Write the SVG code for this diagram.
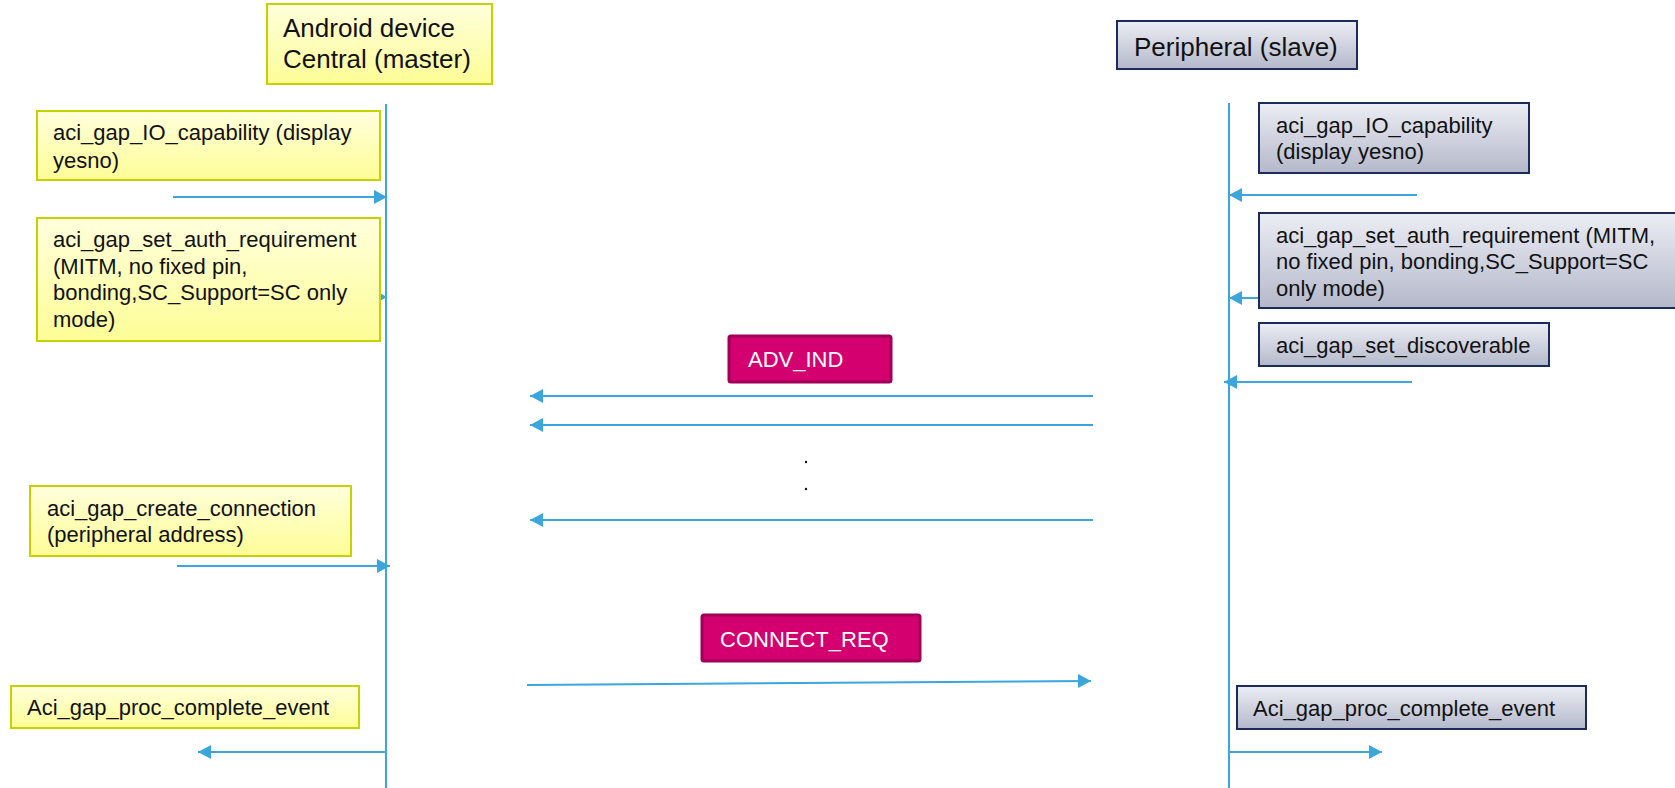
<svg xmlns="http://www.w3.org/2000/svg" width="1675" height="788" viewBox="0 0 1675 788">
<defs>
<linearGradient id="gy" x1="0" y1="0" x2="0" y2="1"><stop offset="0" stop-color="#ffffdc"/><stop offset="1" stop-color="#fdfd96"/></linearGradient>
<linearGradient id="gg" x1="0" y1="0" x2="0" y2="1"><stop offset="0" stop-color="#eceef4"/><stop offset="1" stop-color="#b4b8ca"/></linearGradient>
<marker id="ah" markerUnits="userSpaceOnUse" markerWidth="14" markerHeight="14" refX="13" refY="7" orient="auto"><path d="M0,0 L13,7 L0,14 z" fill="#3aa6dc"/></marker>
<style>
.y{fill:url(#gy);stroke:#c4d200;stroke-width:2}
.g{fill:url(#gg);stroke:#1b2b5b;stroke-width:2}
.m{fill:#d5006f;stroke:#a00058;stroke-width:3}
.t{font-family:"Liberation Sans",Arial,sans-serif;font-size:22px;fill:#111}
.h{font-family:"Liberation Sans",Arial,sans-serif;fill:#111}
.w{font-family:"Liberation Sans",Arial,sans-serif;fill:#fff}
.ll{stroke:#3aa6dc;stroke-width:2;fill:none}
.a{stroke:#3aa6dc;stroke-width:2;fill:none;marker-end:url(#ah)}
</style>
</defs>
<rect width="1675" height="788" fill="#fff"/>
<g id="connectors">
<line class="ll" x1="386" y1="104" x2="386" y2="788"/>
<line class="ll" x1="1229" y1="103" x2="1229" y2="788"/>
<line class="a" x1="173" y1="197" x2="387" y2="197"/>
<line class="a" x1="300" y1="297" x2="387" y2="297"/>
<line class="a" x1="177" y1="566" x2="390" y2="566"/>
<line class="a" x1="386" y1="752" x2="198" y2="752"/>
<line class="a" x1="1417" y1="195" x2="1229" y2="195"/>
<line class="a" x1="1270" y1="298" x2="1229" y2="298"/>
<line class="a" x1="1412" y1="382" x2="1224" y2="382"/>
<line class="a" x1="1229" y1="752" x2="1382" y2="752"/>
<line class="a" x1="1093" y1="396" x2="530" y2="396"/>
<line class="a" x1="1093" y1="425" x2="530" y2="425"/>
<line class="a" x1="1093" y1="520" x2="530" y2="520"/>
<line class="a" x1="527" y1="685" x2="1091" y2="681"/>
</g>
<g id="dots"><circle cx="806" cy="462" r="1.2" fill="#111"/><circle cx="806" cy="489" r="1.2" fill="#111"/></g>
<g id="central"><rect class="y" x="267" y="4" width="225" height="80"/><text class="h" font-size="26" x="283" y="37">Android device</text><text class="h" font-size="26" x="283" y="68">Central (master)</text></g>
<g id="peripheral"><rect class="g" x="1117" y="21" width="240" height="48"/><text class="h" font-size="26" x="1134" y="56">Peripheral (slave)</text></g>
<g id="c-io"><rect class="y" x="37" y="111" width="343" height="69"/><text class="t" x="53" y="140">aci_gap_IO_capability (display</text><text class="t" x="53" y="168">yesno)</text></g>
<g id="c-auth"><rect class="y" x="37" y="218" width="343" height="123"/><text class="t" x="53" y="247">aci_gap_set_auth_requirement</text><text class="t" x="53" y="274">(MITM, no fixed pin,</text><text class="t" x="53" y="300">bonding,SC_Support=SC only</text><text class="t" x="53" y="327">mode)</text></g>
<g id="c-conn"><rect class="y" x="30" y="486" width="321" height="70"/><text class="t" x="47" y="516">aci_gap_create_connection</text><text class="t" x="47" y="542">(peripheral address)</text></g>
<g id="c-proc"><rect class="y" x="11" y="686" width="348" height="42"/><text class="t" x="27" y="715">Aci_gap_proc_complete_event</text></g>
<g id="p-io"><rect class="g" x="1259" y="103" width="270" height="70"/><text class="t" x="1276" y="133">aci_gap_IO_capability</text><text class="t" x="1276" y="159">(display yesno)</text></g>
<g id="p-auth"><rect class="g" x="1259" y="213" width="420" height="95"/><text class="t" x="1276" y="243">aci_gap_set_auth_requirement (MITM,</text><text class="t" x="1276" y="269">no fixed pin, bonding,SC_Support=SC</text><text class="t" x="1276" y="296">only mode)</text></g>
<g id="p-disc"><rect class="g" x="1259" y="323" width="290" height="43"/><text class="t" x="1276" y="353">aci_gap_set_discoverable</text></g>
<g id="p-proc"><rect class="g" x="1237" y="686" width="349" height="43"/><text class="t" x="1253" y="716">Aci_gap_proc_complete_event</text></g>
<g id="adv"><rect class="m" x="729" y="336" width="162" height="46" rx="2"/><text class="w" font-size="22" x="748" y="367">ADV_IND</text></g>
<g id="connreq"><rect class="m" x="702" y="615" width="218" height="46" rx="2"/><text class="w" font-size="22" x="720" y="647">CONNECT_REQ</text></g>
</svg>
